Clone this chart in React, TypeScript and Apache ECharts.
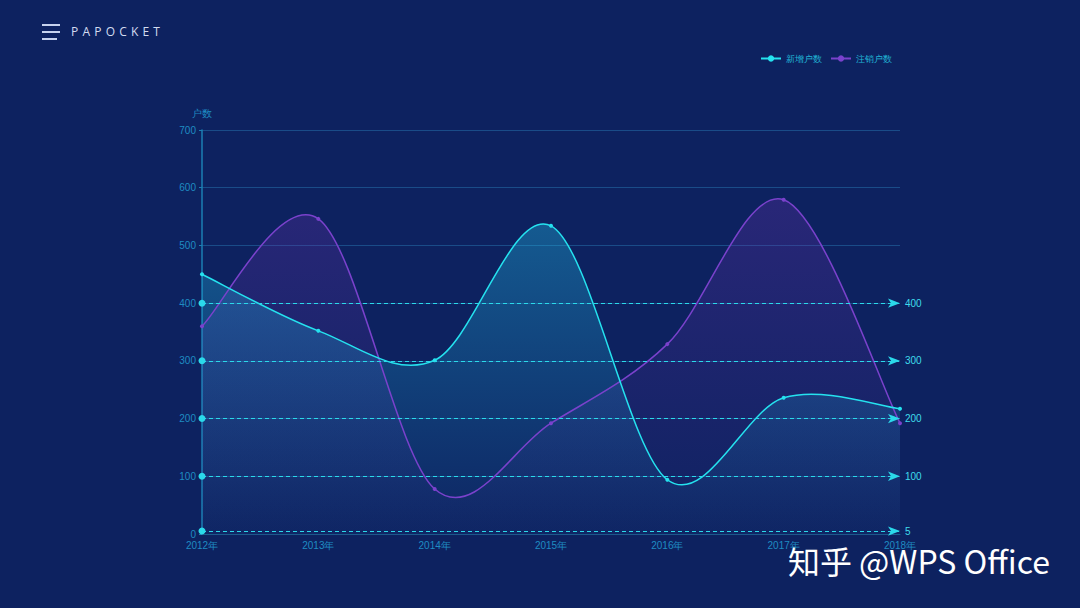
import React, { useEffect, useRef } from "react";
import * as echarts from "echarts";

const years = ["2012年", "2013年", "2014年", "2015年", "2016年", "2017年", "2018年"];
const newUsers = [450, 352, 301, 534, 94, 236, 217];
const cancelled = [360, 546, 78, 192, 329, 579, 192];
const refLines = [5, 100, 200, 300, 400];
const seriesNames = ["新增户数", "注销户数"];

const CYAN = "#25e2ef";
const PURPLE = "#7a42cc";

function curvePath(values: number[], api: any) {
  const pts = values.map((v, i) => api.coord([i, v]));
  const n = pts.length;
  let d = `M${pts[0][0]},${pts[0][1]}`;
  for (let i = 0; i < n - 1; i++) {
    const p0 = pts[Math.max(i - 1, 0)];
    const p1 = pts[i];
    const p2 = pts[i + 1];
    const p3 = pts[Math.min(i + 2, n - 1)];
    const c1 = [p1[0] + (p2[0] - p0[0]) / 6, p1[1] + (p2[1] - p0[1]) / 6];
    const c2 = [p2[0] - (p3[0] - p1[0]) / 6, p2[1] - (p3[1] - p1[1]) / 6];
    d += ` C${c1[0]},${c1[1]} ${c2[0]},${c2[1]} ${p2[0]},${p2[1]}`;
  }
  const b0 = api.coord([0, 0]);
  const bN = api.coord([n - 1, 0]);
  const area = `${d} L${bN[0]},${bN[1]} L${b0[0]},${b0[1]} Z`;
  return { d, area };
}

export default function App() {
  const ref = useRef<HTMLDivElement>(null);
  useEffect(() => {
    if (!ref.current) return;
    document.body.style.margin = "0";
    const chart = echarts.init(ref.current, undefined, { renderer: "svg" });
    const cyanFill = new echarts.graphic.LinearGradient(0, 0, 0, 1, [
      { offset: 0, color: "rgba(34,190,230,0.36)" },
      { offset: 1, color: "rgba(34,190,230,0.02)" },
    ]);
    const purpleFill = new echarts.graphic.LinearGradient(0, 0, 0, 1, [
      { offset: 0, color: "rgba(105,50,175,0.3)" },
      { offset: 1, color: "rgba(105,50,175,0.02)" },
    ]);
    chart.setOption({
      animation: false,
      backgroundColor: "#0d2260",
      grid: { left: 202, right: 180, top: 130, bottom: 74 },
      legend: {
        top: 49,
        right: 183,
        itemWidth: 20,
        itemHeight: 8,
        itemGap: 8,
        textStyle: { color: "#21b6d6", fontSize: 9 },
        lineStyle: { opacity: 1 },
        data: seriesNames,
      },
      graphic: [
        {
          type: "text",
          right: 30,
          top: 544,
          style: {
            text: "知乎 @WPS Office",
            fill: "#ffffff",
            fontSize: 32,
            fontFamily: "Noto Sans CJK SC",
            shadowColor: "rgba(0,0,0,0.5)",
            shadowBlur: 3,
            shadowOffsetX: 1,
            shadowOffsetY: 1,
          },
        },
      ],
      xAxis: {
        type: "category",
        data: years,
        boundaryGap: false,
        axisLine: { show: true, lineStyle: { color: "#1c5a8c" } },
        axisTick: { show: false },
        axisLabel: { color: "#1f8cc2", fontSize: 10, margin: 6 },
        splitLine: { show: false },
      },
      yAxis: {
        type: "value",
        name: "户数",
        nameGap: 12,
        nameTextStyle: { color: "#1f8cc2", fontSize: 10, align: "center" },
        min: 0,
        max: 700,
        interval: 100,
        axisLine: { show: true, lineStyle: { color: "#1b7fb3", width: 1.5 } },
        axisTick: { show: true, length: 3, lineStyle: { color: "#1b7fb3" } },
        axisLabel: { color: "#1f8cc2", fontSize: 10, margin: 6 },
        splitLine: { show: true, lineStyle: { color: "#1a4c88", width: 1 } },
      },
      series: [
        {
          name: "curves",
          type: "custom",
          data: [[0, 0]],
          silent: true,
          z: 2,
          renderItem: (params: any, api: any) => {
            if (params.dataIndex !== 0) return null;
            const a = curvePath(newUsers, api);
            const b = curvePath(cancelled, api);
            return {
              type: "group",
              children: [
                { type: "path", shape: { pathData: b.area }, style: { fill: purpleFill, stroke: null } },
                { type: "path", shape: { pathData: a.area }, style: { fill: cyanFill, stroke: null } },
                { type: "path", shape: { pathData: b.d }, style: { fill: null, stroke: PURPLE, lineWidth: 1.5 } },
                { type: "path", shape: { pathData: a.d }, style: { fill: null, stroke: CYAN, lineWidth: 1.5 } },
              ],
            };
          },
        },
        {
          name: seriesNames[0],
          type: "line",
          data: newUsers,
          symbol: "circle",
          symbolSize: 4,
          itemStyle: { color: CYAN },
          lineStyle: { color: CYAN, width: 1.5, opacity: 0 },
          z: 4,
          markLine: {
            silent: true,
            symbol: ["circle", "arrow"],
            symbolSize: [7, 12],
            lineStyle: { color: "#2bd9ea", type: [4, 3], width: 1, opacity: 1 },
            label: { show: true, position: "end", color: "#3fdcec", fontSize: 10, distance: 5 },
            data: refLines.map((v) => ({ yAxis: v })),
          },
        },
        {
          name: seriesNames[1],
          type: "line",
          data: cancelled,
          symbol: "circle",
          symbolSize: 4,
          itemStyle: { color: PURPLE },
          lineStyle: { color: PURPLE, width: 1.5, opacity: 0 },
          z: 4,
        },
      ],
    });
    return () => chart.dispose();
  }, []);
  return (
    <div style={{ position: "relative", width: 1080, height: 608 }}>
      <div ref={ref} style={{ width: 1080, height: 608 }} />
      <div style={{ position: "absolute", left: 42, top: 24, width: 18 }}>
        <div style={{ height: 1.5, width: 18, background: "#c6d2ee", marginBottom: 5.5 }} />
        <div style={{ height: 1.5, width: 18, background: "#c6d2ee", marginBottom: 5.5 }} />
        <div style={{ height: 1.5, width: 15, background: "#c6d2ee" }} />
      </div>
      <div
        style={{
          position: "absolute",
          left: 71,
          top: 24,
          color: "#d3dcf0",
          fontFamily: "'Open Sans', sans-serif",
          fontSize: 12,
          letterSpacing: 4.2,
          lineHeight: "16px",
        }}
      >
        PAPOCKET
      </div>
    </div>
  );
}
